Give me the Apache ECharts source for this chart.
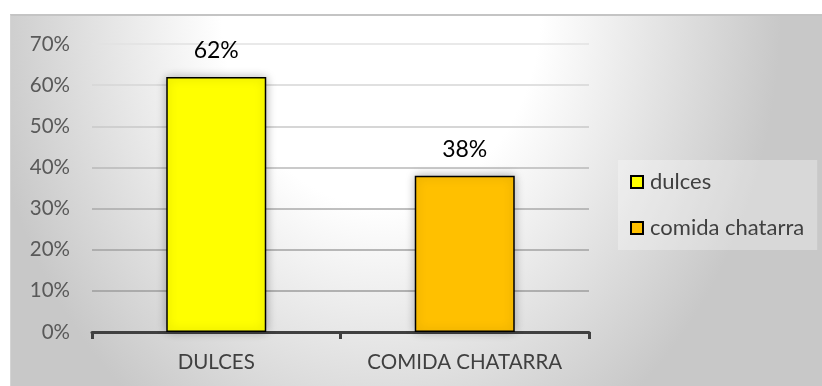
<!DOCTYPE html>
<html>
<head>
<meta charset="utf-8">
<script src="https://cdn.jsdelivr.net/npm/echarts@6/dist/echarts.min.js"></script>
<style>
  html, body { margin: 0; padding: 0; background: #ffffff; }
  #bg {
    position: absolute; left: 10px; top: 14px; width: 812px; height: 372px;
    border-top: 2px solid #c4c4c4; border-left: 1px solid #d4d4d4;
    box-sizing: border-box;
    background: radial-gradient(ellipse 400px 500px at 370px -10px, #ffffff 0%, #ffffff 40%, #c8c8c8 100%);
  }
  #chart { position: absolute; left: 0; top: 0; width: 822px; height: 386px; }
</style>
</head>
<body>
<div id="bg"></div>
<div id="chart"></div>
<script>
// Categories on the x axis and the legend names
const categories = ['DULCES', 'COMIDA CHATARRA'];
const seriesNames = ['dulces', 'comida chatarra'];
// Share of each category, in percent
const dulcesValues = [62, '-'];
const chatarraValues = ['-', 38];
// Y axis range and step, in percent
const yMin = 0;
const yMax = 70;
const yStep = 10;

const font = 'Lato, "Open Sans", sans-serif';
// Grid lines fade as the background gets lighter towards the top
const gridColors = ['#9a9a9a', '#9c9c9c', '#a2a2a2', '#aaaaaa', '#b8b8b8', '#c8c8c8', '#d6d6d6', '#e2e2e2'];

const chart = echarts.init(document.getElementById('chart'));

const barStyle = (color) => ({
  color: color,
  borderColor: '#000000',
  borderWidth: 1.5,
  shadowBlur: 10,
  shadowColor: 'rgba(0,0,0,0.28)'
});

const labelStyle = {
  show: true,
  position: 'top',
  distance: 15,
  formatter: '{c}%',
  color: '#000000',
  fontFamily: font,
  fontSize: 23
};

chart.setOption({
  animation: false,
  grid: { left: 92, right: 233, top: 44, bottom: 54, containLabel: false },
  legend: {
    orient: 'vertical',
    left: 618,
    top: 160,
    padding: [11, 13, 11, 12],
    itemGap: 24,
    itemWidth: 12,
    itemHeight: 12,
    icon: 'rect',
    backgroundColor: 'rgba(255,255,255,0.3)',
    textStyle: { color: '#404040', fontFamily: font, fontSize: 22, padding: [0, 0, 0, 2] },
    data: seriesNames
  },
  xAxis: {
    type: 'category',
    data: categories,
    axisLine: { lineStyle: { color: '#404040', width: 3 } },
    axisTick: { show: true, length: 7, lineStyle: { color: '#404040', width: 3 } },
    axisLabel: { interval: 0, color: '#404040', fontFamily: font, fontSize: 20.5, margin: 20 }
  },
  yAxis: {
    type: 'value',
    min: yMin,
    max: yMax,
    interval: yStep,
    axisLine: { show: false },
    axisTick: { show: false },
    axisLabel: { formatter: '{value}%', color: '#595959', fontFamily: font, fontSize: 20.5, margin: 22 },
    splitLine: { lineStyle: { color: gridColors, width: 1.5 } }
  },
  series: [
    {
      name: seriesNames[0],
      type: 'bar',
      data: dulcesValues,
      barWidth: 100,
      barGap: '-100%',
      itemStyle: barStyle('#ffff00'),
      label: labelStyle
    },
    {
      name: seriesNames[1],
      type: 'bar',
      data: chatarraValues,
      barWidth: 100,
      barGap: '-100%',
      itemStyle: barStyle('#ffc000'),
      label: labelStyle
    }
  ]
});
</script>
</body>
</html>
